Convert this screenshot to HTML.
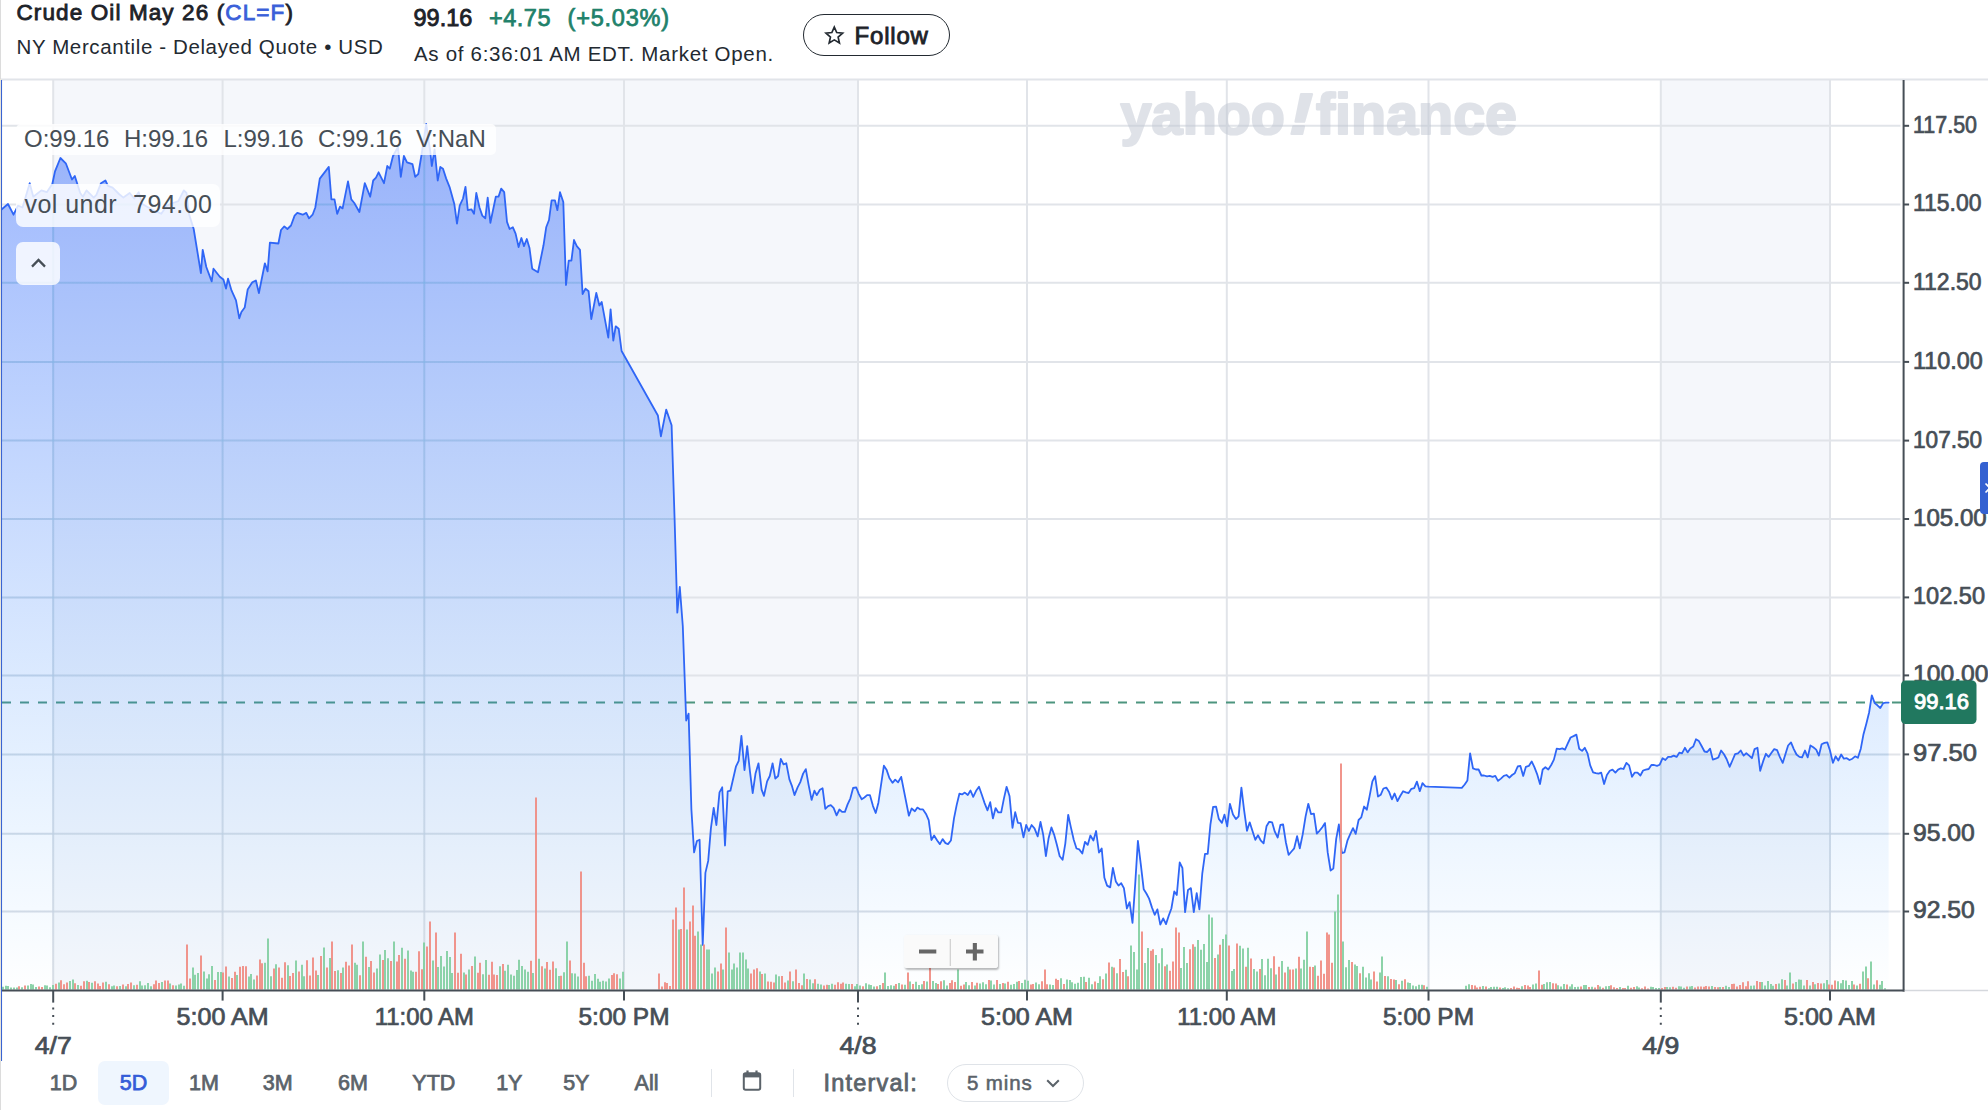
<!DOCTYPE html><html lang="en"><head><meta charset="utf-8"><title>Crude Oil May 26 (CL=F)</title><style>
html,body{margin:0;padding:0;background:#fff}
body{width:1988px;height:1110px;position:relative;overflow:hidden;font-family:"Liberation Sans",sans-serif;color:#1d2228}
.chart{position:absolute;left:0;top:0}
.abs{position:absolute;white-space:nowrap;line-height:1}
h1{margin:0;font-size:22.5px;font-weight:400;-webkit-text-stroke:0.85px currentColor;letter-spacing:1.11px}
.tk{color:#3a5fd9}
.sub{font-size:20.5px;color:#232a31;letter-spacing:.62px}
.px{font-size:23.5px;font-weight:400;-webkit-text-stroke:0.85px currentColor;letter-spacing:0px}
.chg{font-size:23.5px;color:#21816a;-webkit-text-stroke:0.75px #21816a}
.follow{font-family:inherit;margin:0;left:803px;top:13.5px;width:146.5px;height:42.5px;box-sizing:border-box;padding:0;border:1.5px solid #232a31;border-radius:22px;background:#fff}
.follow span{position:absolute;left:50.6px;top:9px;font-size:24px;letter-spacing:.78px;font-weight:400;-webkit-text-stroke:0.85px #1d2228;line-height:1;color:#1d2228}
.follow svg{position:absolute;left:20.2px;top:10.2px}
.tip{background:rgba(255,255,255,.82);border-radius:5px;color:#464e56;font-size:24px}
.tip span{position:absolute;top:3px;line-height:1}
.rng{font-size:21.5px;color:#5b636a;-webkit-text-stroke:0.75px #5b636a;top:1073px}
.rng.on{color:#345cd8;-webkit-text-stroke:0.75px #345cd8}
.sel{left:98px;top:1061px;width:71px;height:43.5px;border-radius:7px;background:#eff6fe}
.sep{width:1.5px;height:28px;top:1069px;background:#e0e4e9}
.ivl{left:823.5px;top:1071.5px;font-size:23.5px;font-weight:400;-webkit-text-stroke:0.8px #5b636a;color:#5b636a;letter-spacing:1.2px}
.pill{left:947px;top:1064px;width:135px;height:36px;border:1.5px solid #dfe3e8;border-radius:19px}
.pill span{position:absolute;left:19px;top:7.5px;font-size:20.5px;letter-spacing:.85px;line-height:1;color:#5b636a;-webkit-text-stroke:0.55px #5b636a}
.zoom{left:904px;top:934.5px;width:94px;height:33.5px;background:rgba(250,250,250,.96);border-radius:3px;box-shadow:1px 1.5px 2px rgba(0,0,0,.28)}
.tab{left:1979.5px;top:461.5px;width:9px;height:52.5px;background:#3461d1;border-radius:4px 0 0 4px}
</style></head><body>
<svg class="chart" width="1988" height="1110" viewBox="0 0 1988 1110">
<defs><linearGradient id="mg" gradientUnits="userSpaceOnUse" x1="0" y1="80" x2="0" y2="990"><stop offset="0" stop-color="#3062fa" stop-opacity="0.50"/><stop offset="0.5" stop-color="#3278fc" stop-opacity="0.25"/><stop offset="1" stop-color="#32a0ff" stop-opacity="0.005"/></linearGradient><linearGradient id="og" gradientUnits="userSpaceOnUse" x1="0" y1="80" x2="0" y2="990"><stop offset="0" stop-color="#1eb4d7" stop-opacity="0.15"/><stop offset="0.6" stop-color="#3c96c8" stop-opacity="0.09"/><stop offset="1" stop-color="#5078aa" stop-opacity="0.05"/></linearGradient></defs>
<rect x="53.2" y="80" width="804.8" height="910" fill="#f5f7fb"/>
<rect x="1660.8" y="80" width="169.2" height="910" fill="#f5f7fb"/>
<g stroke="#e1e4e9" stroke-width="2" fill="none">
<path d="M1 79.5H1988"/>
<path d="M2 125.8H1900.5"/>
<path d="M2 204.5H1900.5"/>
<path d="M2 282.8H1900.5"/>
<path d="M2 361.9H1900.5"/>
<path d="M2 440.6H1900.5"/>
<path d="M2 519.0H1900.5"/>
<path d="M2 597.4H1900.5"/>
<path d="M2 675.4H1900.5"/>
<path d="M2 754.4H1900.5"/>
<path d="M2 833.8H1900.5"/>
<path d="M2 911.5H1900.5"/>
<path d="M53.2 80V990"/>
<path d="M222.6 80V990"/>
<path d="M424.3 80V990"/>
<path d="M624.0 80V990"/>
<path d="M858.0 80V990"/>
<path d="M1027.0 80V990"/>
<path d="M1226.8 80V990"/>
<path d="M1428.5 80V990"/>
<path d="M1660.8 80V990"/>
<path d="M1830.0 80V990"/>
</g>
<g opacity="0.5" fill="#c1c7d3" stroke="#c1c7d3" stroke-width="2.2" stroke-linejoin="round" font-family="'Liberation Sans',sans-serif" font-weight="700" font-size="58"><text x="1120.5" y="133.8" textLength="164.5" lengthAdjust="spacingAndGlyphs">yahoo</text><text x="1289" y="133.8" font-style="italic" textLength="24" lengthAdjust="spacingAndGlyphs">!</text><text x="1316" y="133.8" textLength="201" lengthAdjust="spacingAndGlyphs">finance</text></g>
<path d="M0 702.5H1901" stroke="#4d957f" stroke-width="2" stroke-dasharray="9 9" stroke-dashoffset="-2" fill="none"/>
<defs><path id="ar" d="M1.8 209.3 L8.0 204.0 L13.5 214.7 L18.0 205.7 L22.5 207.5 L29.7 183.2 L33.3 196.7 L41.4 190.4 L46.8 192.2 L52.3 184.0 L55.0 171.4 L60.4 158.0 L65.8 163.3 L72.0 179.5 L74.8 176.0 L80.2 193.0 L82.9 196.7 L86.5 190.4 L93.7 197.6 L96.4 194.9 L101.0 183.2 L105.4 180.5 L108.0 185.9 L112.6 187.7 L119.0 194.0 L123.4 197.6 L129.7 193.0 L134.2 198.5 L138.7 192.2 L142.3 203.9 L151.4 209.3 L161.3 213.8 L166.7 205.7 L173.0 203.0 L178.4 201.2 L183.8 190.4 L186.5 193.0 L189.2 214.7 L193.7 229.0 L200.9 273.2 L202.7 249.8 L206.3 267.0 L211.7 281.4 L213.5 268.7 L219.8 276.8 L223.4 279.5 L226.0 288.6 L228.0 278.6 L231.5 290.4 L236.0 300.3 L239.3 318.3 L241.4 312.0 L244.7 307.5 L247.7 289.5 L252.3 282.3 L255.9 280.5 L258.9 293.0 L264.9 263.3 L267.6 271.4 L269.9 242.6 L278.4 243.5 L281.0 230.0 L284.3 226.4 L287.4 229.0 L291.0 225.5 L294.6 215.6 L297.3 212.9 L302.7 214.7 L306.3 212.9 L309.0 218.3 L312.6 214.7 L315.3 207.5 L319.8 178.6 L328.8 166.9 L331.4 199.4 L334.5 199.4 L337.2 213.8 L340.0 206.6 L342.6 208.4 L348.0 181.4 L351.3 199.4 L354.3 203.0 L359.4 212.0 L364.8 183.2 L370.2 196.7 L373.2 180.5 L376.0 177.7 L378.6 172.3 L384.0 183.2 L387.3 166.0 L389.8 168.7 L393.0 156.0 L398.0 147.0 L400.8 176.8 L403.9 156.0 L407.0 162.4 L412.5 164.2 L415.2 176.8 L418.3 174.0 L421.5 155.0 L426.2 124.0 L430.3 152.0 L431.8 166.0 L434.6 149.5 L437.7 180.5 L440.3 167.0 L443.0 168.7 L446.2 178.6 L449.8 187.7 L454.3 203.9 L457.0 223.7 L459.7 205.7 L463.0 198.5 L465.5 186.8 L467.8 210.2 L471.4 209.3 L474.0 213.8 L476.3 193.0 L479.5 207.5 L482.3 215.6 L485.3 218.3 L487.7 197.6 L490.4 222.8 L495.8 196.7 L498.5 196.7 L501.2 188.6 L504.2 192.2 L507.0 221.9 L509.6 229.0 L512.9 227.3 L515.6 233.6 L518.6 247.0 L521.4 238.0 L524.0 246.2 L526.8 239.0 L529.5 248.0 L532.2 268.7 L538.0 272.3 L543.5 245.3 L546.2 227.3 L549.0 220.0 L551.6 200.3 L554.9 200.3 L557.4 210.2 L560.0 192.2 L563.3 202.0 L566.0 285.0 L568.7 260.6 L571.4 260.6 L574.0 240.0 L576.8 246.2 L580.0 249.8 L582.6 294.0 L585.5 288.6 L588.6 291.3 L591.3 319.2 L596.3 293.0 L599.4 305.5 L601.7 301.9 L608.3 337.6 L610.6 309.3 L613.3 340.6 L615.7 326.3 L618.7 328.7 L621.6 351.0 L657.9 415.5 L660.9 436.3 L666.2 409.6 L671.6 425.3 L674.6 519.0 L677.3 612.6 L679.8 587.0 L682.8 626.2 L686.2 720.5 L688.6 713.6 L691.4 809.5 L694.1 852.4 L696.9 841.0 L699.6 839.7 L702.7 944.9 L705.4 872.9 L708.2 860.9 L710.9 828.4 L713.7 807.8 L716.4 825.0 L719.5 792.4 L722.2 787.3 L725.0 845.5 L727.7 791.4 L730.4 790.7 L735.9 766.7 L738.7 760.9 L741.4 735.9 L744.5 770.1 L747.2 746.2 L750.0 771.9 L752.7 793.1 L755.5 773.6 L758.5 763.3 L761.6 789.7 L764.0 795.8 L767.1 781.4 L769.8 776.0 L772.6 763.3 L775.3 778.7 L778.1 776.0 L780.8 758.8 L783.5 764.3 L786.3 763.3 L789.4 779.4 L791.8 785.6 L794.5 795.1 L797.6 787.3 L800.3 782.1 L803.1 773.6 L805.8 769.1 L808.6 784.9 L811.6 799.9 L814.4 790.7 L816.8 795.1 L819.9 789.7 L822.6 788.3 L825.3 808.8 L828.1 806.1 L830.8 805.1 L833.6 807.8 L836.6 815.4 L839.4 809.5 L842.1 811.9 L844.9 811.9 L847.6 804.4 L850.3 798.6 L853.1 788.0 L856.2 787.3 L858.9 794.1 L861.7 799.3 L864.4 797.5 L867.1 795.1 L869.9 795.1 L873.0 806.1 L875.7 813.0 L878.4 802.7 L883.9 765.7 L886.7 770.1 L889.4 778.0 L892.5 782.8 L895.2 779.7 L898.1 782.3 L901.2 776.9 L908.9 815.7 L911.6 808.5 L914.9 811.2 L917.4 807.6 L920.3 809.4 L923.0 809.4 L926.0 813.9 L928.7 820.2 L931.4 840.0 L934.1 835.5 L937.2 840.5 L939.9 844.1 L942.6 839.1 L945.5 843.1 L948.0 844.1 L950.9 840.5 L954.0 818.4 L956.7 804.9 L959.4 793.7 L962.1 794.4 L964.8 792.6 L967.8 795.0 L970.5 790.5 L973.2 796.8 L976.1 790.8 L979.0 786.8 L981.9 795.0 L984.6 803.1 L987.5 810.3 L990.2 802.2 L992.9 818.4 L995.6 808.1 L998.3 812.4 L1001.2 812.4 L1003.9 798.6 L1006.6 786.8 L1009.5 795.9 L1012.5 827.9 L1015.2 812.1 L1017.9 822.9 L1020.6 823.2 L1023.5 837.3 L1026.2 825.0 L1028.9 831.0 L1031.6 825.0 L1034.5 828.3 L1037.7 836.4 L1040.5 822.0 L1043.2 834.6 L1045.9 856.2 L1048.6 838.2 L1051.4 827.4 L1054.1 834.6 L1056.8 844.5 L1059.7 856.2 L1062.6 859.8 L1065.3 843.6 L1068.2 814.8 L1070.9 827.4 L1073.8 840.0 L1076.5 848.5 L1079.2 849.4 L1082.3 853.5 L1085.0 841.8 L1087.7 844.9 L1090.4 835.5 L1093.4 840.5 L1096.1 831.0 L1099.0 852.6 L1101.7 848.5 L1104.4 877.8 L1107.1 885.6 L1110.2 887.4 L1112.9 867.9 L1115.8 881.4 L1118.5 885.6 L1121.2 883.2 L1123.9 888.1 L1126.9 908.5 L1129.6 902.2 L1132.5 922.9 L1135.2 884.1 L1137.9 840.9 L1140.8 864.3 L1143.7 889.2 L1146.4 893.5 L1149.1 898.6 L1152.0 907.6 L1154.7 914.8 L1157.4 909.4 L1160.3 924.7 L1163.2 918.4 L1166.0 924.1 L1168.7 915.7 L1171.4 908.5 L1174.3 891.4 L1176.8 895.0 L1179.7 862.5 L1182.4 867.9 L1185.1 912.1 L1188.0 889.9 L1190.9 888.1 L1193.8 912.1 L1196.7 893.2 L1199.4 909.4 L1202.3 873.3 L1205.0 853.9 L1207.7 853.9 L1210.4 824.7 L1213.1 807.0 L1216.1 806.7 L1218.8 818.9 L1221.9 822.9 L1224.5 814.6 L1227.2 826.3 L1229.9 803.8 L1233.0 814.6 L1235.9 819.1 L1238.6 816.4 L1241.4 787.6 L1244.1 810.1 L1247.0 830.8 L1249.7 822.3 L1252.4 830.8 L1255.3 839.8 L1258.0 835.3 L1260.9 840.7 L1263.6 843.4 L1266.5 826.3 L1269.2 821.8 L1272.1 822.3 L1274.8 831.7 L1277.7 837.5 L1280.4 824.9 L1283.1 824.5 L1285.9 842.5 L1288.6 854.8 L1291.5 851.5 L1294.2 848.3 L1297.1 836.2 L1299.8 848.3 L1302.7 834.4 L1305.6 816.4 L1308.3 803.8 L1311.0 814.1 L1313.9 813.7 L1316.8 833.5 L1319.5 830.8 L1322.3 827.2 L1325.0 823.1 L1327.7 852.4 L1330.6 870.5 L1333.3 868.6 L1336.2 838.9 L1338.9 824.5 L1341.8 853.0 L1344.5 852.4 L1347.4 840.7 L1350.1 834.4 L1353.0 828.1 L1355.7 833.9 L1358.6 820.0 L1361.3 817.3 L1364.1 806.5 L1366.8 809.7 L1369.5 796.6 L1372.4 781.3 L1375.1 776.2 L1378.0 796.6 L1380.7 794.8 L1383.4 788.5 L1386.3 787.6 L1389.2 792.1 L1391.9 799.3 L1394.6 793.5 L1397.5 801.1 L1400.2 796.0 L1403.1 791.2 L1405.8 792.4 L1408.6 793.0 L1411.4 788.8 L1414.2 788.1 L1416.9 781.6 L1419.8 791.2 L1422.5 783.1 L1425.4 786.3 L1428.6 786.7 L1461.8 787.9 L1464.7 784.5 L1467.4 780.4 L1470.1 753.3 L1473.0 768.3 L1475.9 769.5 L1478.6 769.5 L1481.4 775.5 L1484.1 775.5 L1487.0 776.4 L1489.7 775.9 L1492.6 776.8 L1495.3 775.9 L1498.0 780.9 L1500.9 778.6 L1503.8 775.9 L1506.5 775.0 L1509.4 777.7 L1512.1 775.0 L1514.8 773.2 L1517.7 766.5 L1520.4 765.9 L1523.2 775.9 L1525.9 766.8 L1528.8 765.9 L1531.7 761.4 L1534.4 767.2 L1537.1 774.1 L1540.0 784.0 L1542.7 769.5 L1545.4 767.2 L1548.3 769.5 L1551.2 765.0 L1553.9 759.6 L1556.7 748.7 L1559.6 749.1 L1562.3 748.4 L1565.0 749.6 L1567.7 743.7 L1570.6 737.5 L1573.5 736.1 L1576.4 734.6 L1579.2 748.7 L1582.1 750.9 L1584.8 747.8 L1587.5 753.3 L1590.2 765.4 L1593.1 772.3 L1595.8 773.2 L1598.5 773.7 L1601.2 772.6 L1604.1 784.0 L1606.9 775.0 L1609.8 770.8 L1612.5 769.6 L1615.4 772.6 L1618.1 769.6 L1620.8 768.3 L1623.5 769.0 L1626.4 762.9 L1629.1 765.4 L1632.0 776.8 L1634.8 772.6 L1637.5 772.6 L1640.4 775.5 L1643.1 770.5 L1645.8 769.6 L1648.7 769.0 L1651.4 765.0 L1654.1 765.0 L1657.0 765.9 L1659.7 764.7 L1662.6 758.2 L1665.4 760.0 L1668.1 756.9 L1671.0 756.9 L1673.7 755.6 L1676.6 756.9 L1679.3 752.7 L1682.0 753.3 L1684.9 747.8 L1687.6 752.4 L1690.3 748.4 L1693.2 746.6 L1696.0 739.3 L1698.9 741.1 L1701.6 746.0 L1704.5 751.5 L1707.2 752.0 L1710.1 748.7 L1712.8 759.6 L1715.7 758.7 L1718.4 757.4 L1721.1 750.5 L1724.0 754.2 L1726.7 759.2 L1729.6 766.8 L1732.4 760.5 L1735.1 754.2 L1738.0 753.3 L1740.7 750.5 L1743.6 755.6 L1746.3 753.3 L1749.2 755.6 L1751.9 758.2 L1754.6 749.1 L1757.5 747.8 L1760.2 770.8 L1763.1 761.4 L1765.9 753.8 L1768.6 756.9 L1771.5 752.7 L1774.2 749.1 L1777.1 750.2 L1779.8 756.9 L1782.7 762.9 L1785.4 754.2 L1788.1 745.5 L1791.0 742.4 L1793.8 749.1 L1796.5 754.5 L1799.4 756.9 L1802.1 757.4 L1805.0 750.5 L1807.7 757.4 L1810.4 745.5 L1813.3 747.3 L1816.2 749.6 L1818.9 755.6 L1821.6 744.2 L1824.5 742.9 L1827.3 742.4 L1830.0 750.5 L1832.9 762.9 L1835.6 756.3 L1838.3 760.5 L1841.2 754.5 L1843.9 758.7 L1846.8 758.2 L1849.5 760.0 L1852.4 758.7 L1855.1 756.3 L1857.9 757.8 L1860.8 748.7 L1863.5 734.2 L1866.4 723.4 L1869.1 712.5 L1871.8 695.3 L1874.7 703.1 L1877.4 705.3 L1880.3 708.0 L1883.2 703.1 L1885.9 702.6 L1888.6 702.6 L1888.6 990 L1.8 990 Z"/><clipPath id="ac"><use href="#ar"/></clipPath></defs>
<use href="#ar" fill="url(#mg)"/>
<g clip-path="url(#ac)" stroke="url(#og)" stroke-width="2" fill="none">
<path d="M2 125.8H1900.5"/>
<path d="M2 204.5H1900.5"/>
<path d="M2 282.8H1900.5"/>
<path d="M2 361.9H1900.5"/>
<path d="M2 440.6H1900.5"/>
<path d="M2 519.0H1900.5"/>
<path d="M2 597.4H1900.5"/>
<path d="M2 675.4H1900.5"/>
<path d="M2 754.4H1900.5"/>
<path d="M2 833.8H1900.5"/>
<path d="M2 911.5H1900.5"/>
<path d="M53.2 80V990"/>
<path d="M222.6 80V990"/>
<path d="M424.3 80V990"/>
<path d="M624.0 80V990"/>
<path d="M858.0 80V990"/>
<path d="M1027.0 80V990"/>
<path d="M1226.8 80V990"/>
<path d="M1428.5 80V990"/>
<path d="M1660.8 80V990"/>
<path d="M1830.0 80V990"/>
</g>
<path d="M1.8 209.3 L8.0 204.0 L13.5 214.7 L18.0 205.7 L22.5 207.5 L29.7 183.2 L33.3 196.7 L41.4 190.4 L46.8 192.2 L52.3 184.0 L55.0 171.4 L60.4 158.0 L65.8 163.3 L72.0 179.5 L74.8 176.0 L80.2 193.0 L82.9 196.7 L86.5 190.4 L93.7 197.6 L96.4 194.9 L101.0 183.2 L105.4 180.5 L108.0 185.9 L112.6 187.7 L119.0 194.0 L123.4 197.6 L129.7 193.0 L134.2 198.5 L138.7 192.2 L142.3 203.9 L151.4 209.3 L161.3 213.8 L166.7 205.7 L173.0 203.0 L178.4 201.2 L183.8 190.4 L186.5 193.0 L189.2 214.7 L193.7 229.0 L200.9 273.2 L202.7 249.8 L206.3 267.0 L211.7 281.4 L213.5 268.7 L219.8 276.8 L223.4 279.5 L226.0 288.6 L228.0 278.6 L231.5 290.4 L236.0 300.3 L239.3 318.3 L241.4 312.0 L244.7 307.5 L247.7 289.5 L252.3 282.3 L255.9 280.5 L258.9 293.0 L264.9 263.3 L267.6 271.4 L269.9 242.6 L278.4 243.5 L281.0 230.0 L284.3 226.4 L287.4 229.0 L291.0 225.5 L294.6 215.6 L297.3 212.9 L302.7 214.7 L306.3 212.9 L309.0 218.3 L312.6 214.7 L315.3 207.5 L319.8 178.6 L328.8 166.9 L331.4 199.4 L334.5 199.4 L337.2 213.8 L340.0 206.6 L342.6 208.4 L348.0 181.4 L351.3 199.4 L354.3 203.0 L359.4 212.0 L364.8 183.2 L370.2 196.7 L373.2 180.5 L376.0 177.7 L378.6 172.3 L384.0 183.2 L387.3 166.0 L389.8 168.7 L393.0 156.0 L398.0 147.0 L400.8 176.8 L403.9 156.0 L407.0 162.4 L412.5 164.2 L415.2 176.8 L418.3 174.0 L421.5 155.0 L426.2 124.0 L430.3 152.0 L431.8 166.0 L434.6 149.5 L437.7 180.5 L440.3 167.0 L443.0 168.7 L446.2 178.6 L449.8 187.7 L454.3 203.9 L457.0 223.7 L459.7 205.7 L463.0 198.5 L465.5 186.8 L467.8 210.2 L471.4 209.3 L474.0 213.8 L476.3 193.0 L479.5 207.5 L482.3 215.6 L485.3 218.3 L487.7 197.6 L490.4 222.8 L495.8 196.7 L498.5 196.7 L501.2 188.6 L504.2 192.2 L507.0 221.9 L509.6 229.0 L512.9 227.3 L515.6 233.6 L518.6 247.0 L521.4 238.0 L524.0 246.2 L526.8 239.0 L529.5 248.0 L532.2 268.7 L538.0 272.3 L543.5 245.3 L546.2 227.3 L549.0 220.0 L551.6 200.3 L554.9 200.3 L557.4 210.2 L560.0 192.2 L563.3 202.0 L566.0 285.0 L568.7 260.6 L571.4 260.6 L574.0 240.0 L576.8 246.2 L580.0 249.8 L582.6 294.0 L585.5 288.6 L588.6 291.3 L591.3 319.2 L596.3 293.0 L599.4 305.5 L601.7 301.9 L608.3 337.6 L610.6 309.3 L613.3 340.6 L615.7 326.3 L618.7 328.7 L621.6 351.0 L657.9 415.5 L660.9 436.3 L666.2 409.6 L671.6 425.3 L674.6 519.0 L677.3 612.6 L679.8 587.0 L682.8 626.2 L686.2 720.5 L688.6 713.6 L691.4 809.5 L694.1 852.4 L696.9 841.0 L699.6 839.7 L702.7 944.9 L705.4 872.9 L708.2 860.9 L710.9 828.4 L713.7 807.8 L716.4 825.0 L719.5 792.4 L722.2 787.3 L725.0 845.5 L727.7 791.4 L730.4 790.7 L735.9 766.7 L738.7 760.9 L741.4 735.9 L744.5 770.1 L747.2 746.2 L750.0 771.9 L752.7 793.1 L755.5 773.6 L758.5 763.3 L761.6 789.7 L764.0 795.8 L767.1 781.4 L769.8 776.0 L772.6 763.3 L775.3 778.7 L778.1 776.0 L780.8 758.8 L783.5 764.3 L786.3 763.3 L789.4 779.4 L791.8 785.6 L794.5 795.1 L797.6 787.3 L800.3 782.1 L803.1 773.6 L805.8 769.1 L808.6 784.9 L811.6 799.9 L814.4 790.7 L816.8 795.1 L819.9 789.7 L822.6 788.3 L825.3 808.8 L828.1 806.1 L830.8 805.1 L833.6 807.8 L836.6 815.4 L839.4 809.5 L842.1 811.9 L844.9 811.9 L847.6 804.4 L850.3 798.6 L853.1 788.0 L856.2 787.3 L858.9 794.1 L861.7 799.3 L864.4 797.5 L867.1 795.1 L869.9 795.1 L873.0 806.1 L875.7 813.0 L878.4 802.7 L883.9 765.7 L886.7 770.1 L889.4 778.0 L892.5 782.8 L895.2 779.7 L898.1 782.3 L901.2 776.9 L908.9 815.7 L911.6 808.5 L914.9 811.2 L917.4 807.6 L920.3 809.4 L923.0 809.4 L926.0 813.9 L928.7 820.2 L931.4 840.0 L934.1 835.5 L937.2 840.5 L939.9 844.1 L942.6 839.1 L945.5 843.1 L948.0 844.1 L950.9 840.5 L954.0 818.4 L956.7 804.9 L959.4 793.7 L962.1 794.4 L964.8 792.6 L967.8 795.0 L970.5 790.5 L973.2 796.8 L976.1 790.8 L979.0 786.8 L981.9 795.0 L984.6 803.1 L987.5 810.3 L990.2 802.2 L992.9 818.4 L995.6 808.1 L998.3 812.4 L1001.2 812.4 L1003.9 798.6 L1006.6 786.8 L1009.5 795.9 L1012.5 827.9 L1015.2 812.1 L1017.9 822.9 L1020.6 823.2 L1023.5 837.3 L1026.2 825.0 L1028.9 831.0 L1031.6 825.0 L1034.5 828.3 L1037.7 836.4 L1040.5 822.0 L1043.2 834.6 L1045.9 856.2 L1048.6 838.2 L1051.4 827.4 L1054.1 834.6 L1056.8 844.5 L1059.7 856.2 L1062.6 859.8 L1065.3 843.6 L1068.2 814.8 L1070.9 827.4 L1073.8 840.0 L1076.5 848.5 L1079.2 849.4 L1082.3 853.5 L1085.0 841.8 L1087.7 844.9 L1090.4 835.5 L1093.4 840.5 L1096.1 831.0 L1099.0 852.6 L1101.7 848.5 L1104.4 877.8 L1107.1 885.6 L1110.2 887.4 L1112.9 867.9 L1115.8 881.4 L1118.5 885.6 L1121.2 883.2 L1123.9 888.1 L1126.9 908.5 L1129.6 902.2 L1132.5 922.9 L1135.2 884.1 L1137.9 840.9 L1140.8 864.3 L1143.7 889.2 L1146.4 893.5 L1149.1 898.6 L1152.0 907.6 L1154.7 914.8 L1157.4 909.4 L1160.3 924.7 L1163.2 918.4 L1166.0 924.1 L1168.7 915.7 L1171.4 908.5 L1174.3 891.4 L1176.8 895.0 L1179.7 862.5 L1182.4 867.9 L1185.1 912.1 L1188.0 889.9 L1190.9 888.1 L1193.8 912.1 L1196.7 893.2 L1199.4 909.4 L1202.3 873.3 L1205.0 853.9 L1207.7 853.9 L1210.4 824.7 L1213.1 807.0 L1216.1 806.7 L1218.8 818.9 L1221.9 822.9 L1224.5 814.6 L1227.2 826.3 L1229.9 803.8 L1233.0 814.6 L1235.9 819.1 L1238.6 816.4 L1241.4 787.6 L1244.1 810.1 L1247.0 830.8 L1249.7 822.3 L1252.4 830.8 L1255.3 839.8 L1258.0 835.3 L1260.9 840.7 L1263.6 843.4 L1266.5 826.3 L1269.2 821.8 L1272.1 822.3 L1274.8 831.7 L1277.7 837.5 L1280.4 824.9 L1283.1 824.5 L1285.9 842.5 L1288.6 854.8 L1291.5 851.5 L1294.2 848.3 L1297.1 836.2 L1299.8 848.3 L1302.7 834.4 L1305.6 816.4 L1308.3 803.8 L1311.0 814.1 L1313.9 813.7 L1316.8 833.5 L1319.5 830.8 L1322.3 827.2 L1325.0 823.1 L1327.7 852.4 L1330.6 870.5 L1333.3 868.6 L1336.2 838.9 L1338.9 824.5 L1341.8 853.0 L1344.5 852.4 L1347.4 840.7 L1350.1 834.4 L1353.0 828.1 L1355.7 833.9 L1358.6 820.0 L1361.3 817.3 L1364.1 806.5 L1366.8 809.7 L1369.5 796.6 L1372.4 781.3 L1375.1 776.2 L1378.0 796.6 L1380.7 794.8 L1383.4 788.5 L1386.3 787.6 L1389.2 792.1 L1391.9 799.3 L1394.6 793.5 L1397.5 801.1 L1400.2 796.0 L1403.1 791.2 L1405.8 792.4 L1408.6 793.0 L1411.4 788.8 L1414.2 788.1 L1416.9 781.6 L1419.8 791.2 L1422.5 783.1 L1425.4 786.3 L1428.6 786.7 L1461.8 787.9 L1464.7 784.5 L1467.4 780.4 L1470.1 753.3 L1473.0 768.3 L1475.9 769.5 L1478.6 769.5 L1481.4 775.5 L1484.1 775.5 L1487.0 776.4 L1489.7 775.9 L1492.6 776.8 L1495.3 775.9 L1498.0 780.9 L1500.9 778.6 L1503.8 775.9 L1506.5 775.0 L1509.4 777.7 L1512.1 775.0 L1514.8 773.2 L1517.7 766.5 L1520.4 765.9 L1523.2 775.9 L1525.9 766.8 L1528.8 765.9 L1531.7 761.4 L1534.4 767.2 L1537.1 774.1 L1540.0 784.0 L1542.7 769.5 L1545.4 767.2 L1548.3 769.5 L1551.2 765.0 L1553.9 759.6 L1556.7 748.7 L1559.6 749.1 L1562.3 748.4 L1565.0 749.6 L1567.7 743.7 L1570.6 737.5 L1573.5 736.1 L1576.4 734.6 L1579.2 748.7 L1582.1 750.9 L1584.8 747.8 L1587.5 753.3 L1590.2 765.4 L1593.1 772.3 L1595.8 773.2 L1598.5 773.7 L1601.2 772.6 L1604.1 784.0 L1606.9 775.0 L1609.8 770.8 L1612.5 769.6 L1615.4 772.6 L1618.1 769.6 L1620.8 768.3 L1623.5 769.0 L1626.4 762.9 L1629.1 765.4 L1632.0 776.8 L1634.8 772.6 L1637.5 772.6 L1640.4 775.5 L1643.1 770.5 L1645.8 769.6 L1648.7 769.0 L1651.4 765.0 L1654.1 765.0 L1657.0 765.9 L1659.7 764.7 L1662.6 758.2 L1665.4 760.0 L1668.1 756.9 L1671.0 756.9 L1673.7 755.6 L1676.6 756.9 L1679.3 752.7 L1682.0 753.3 L1684.9 747.8 L1687.6 752.4 L1690.3 748.4 L1693.2 746.6 L1696.0 739.3 L1698.9 741.1 L1701.6 746.0 L1704.5 751.5 L1707.2 752.0 L1710.1 748.7 L1712.8 759.6 L1715.7 758.7 L1718.4 757.4 L1721.1 750.5 L1724.0 754.2 L1726.7 759.2 L1729.6 766.8 L1732.4 760.5 L1735.1 754.2 L1738.0 753.3 L1740.7 750.5 L1743.6 755.6 L1746.3 753.3 L1749.2 755.6 L1751.9 758.2 L1754.6 749.1 L1757.5 747.8 L1760.2 770.8 L1763.1 761.4 L1765.9 753.8 L1768.6 756.9 L1771.5 752.7 L1774.2 749.1 L1777.1 750.2 L1779.8 756.9 L1782.7 762.9 L1785.4 754.2 L1788.1 745.5 L1791.0 742.4 L1793.8 749.1 L1796.5 754.5 L1799.4 756.9 L1802.1 757.4 L1805.0 750.5 L1807.7 757.4 L1810.4 745.5 L1813.3 747.3 L1816.2 749.6 L1818.9 755.6 L1821.6 744.2 L1824.5 742.9 L1827.3 742.4 L1830.0 750.5 L1832.9 762.9 L1835.6 756.3 L1838.3 760.5 L1841.2 754.5 L1843.9 758.7 L1846.8 758.2 L1849.5 760.0 L1852.4 758.7 L1855.1 756.3 L1857.9 757.8 L1860.8 748.7 L1863.5 734.2 L1866.4 723.4 L1869.1 712.5 L1871.8 695.3 L1874.7 703.1 L1877.4 705.3 L1880.3 708.0 L1883.2 703.1 L1885.9 702.6 L1888.6 702.6" fill="none" stroke="#2f66f6" stroke-width="1.8" stroke-linejoin="round" stroke-linecap="round"/>
<path d="M2.1 989.6v-2.8h1.8v2.8zM5.1 989.6v-3.9h1.8v3.9zM7.1 989.6v-3.6h1.8v3.6zM10.1 989.6v-2.0h1.8v2.0zM13.1 989.6v-2.0h1.8v2.0zM16.1 989.6v-2.1h1.8v2.1zM21.1 989.6v-2.3h1.8v2.3zM27.1 989.6v-4.0h1.8v4.0zM30.1 989.6v-5.5h1.8v5.5zM32.1 989.6v-5.1h1.8v5.1zM35.1 989.6v-2.5h1.8v2.5zM44.1 989.6v-4.4h1.8v4.4zM46.1 989.6v-4.1h1.8v4.1zM49.1 989.6v-2.3h1.8v2.3zM52.1 989.6v-4.7h1.8v4.7zM58.1 989.6v-7.0h1.8v7.0zM69.1 989.6v-8.6h1.8v8.6zM72.1 989.6v-10.2h1.8v10.2zM77.1 989.6v-4.5h1.8v4.5zM86.1 989.6v-8.9h1.8v8.9zM91.1 989.6v-6.9h1.8v6.9zM105.1 989.6v-7.9h1.8v7.9zM111.1 989.6v-3.3h1.8v3.3zM113.1 989.6v-4.0h1.8v4.0zM119.1 989.6v-3.7h1.8v3.7zM125.1 989.6v-3.3h1.8v3.3zM133.1 989.6v-4.3h1.8v4.3zM139.1 989.6v-8.3h1.8v8.3zM141.1 989.6v-4.0h1.8v4.0zM144.1 989.6v-4.4h1.8v4.4zM147.1 989.6v-6.5h1.8v6.5zM150.1 989.6v-3.3h1.8v3.3zM161.1 989.6v-7.6h1.8v7.6zM169.1 989.6v-6.1h1.8v6.1zM175.1 989.6v-4.1h1.8v4.1zM178.1 989.6v-5.2h1.8v5.2zM180.1 989.6v-6.1h1.8v6.1zM183.1 989.6v-3.9h1.8v3.9zM192.1 989.6v-22.0h1.8v22.0zM194.1 989.6v-14.9h1.8v14.9zM197.1 989.6v-16.7h1.8v16.7zM203.1 989.6v-18.0h1.8v18.0zM206.1 989.6v-11.2h1.8v11.2zM208.1 989.6v-15.3h1.8v15.3zM211.1 989.6v-23.5h1.8v23.5zM217.1 989.6v-17.6h1.8v17.6zM220.1 989.6v-17.6h1.8v17.6zM228.1 989.6v-13.1h1.8v13.1zM236.1 989.6v-14.5h1.8v14.5zM248.1 989.6v-13.2h1.8v13.2zM250.1 989.6v-15.5h1.8v15.5zM253.1 989.6v-10.1h1.8v10.1zM264.1 989.6v-26.9h1.8v26.9zM267.1 989.6v-51.0h1.8v51.0zM270.1 989.6v-13.4h1.8v13.4zM275.1 989.6v-25.4h1.8v25.4zM287.1 989.6v-24.3h1.8v24.3zM295.1 989.6v-29.2h1.8v29.2zM301.1 989.6v-24.8h1.8v24.8zM303.1 989.6v-13.4h1.8v13.4zM317.1 989.6v-14.7h1.8v14.7zM323.1 989.6v-42.0h1.8v42.0zM329.1 989.6v-31.7h1.8v31.7zM337.1 989.6v-19.4h1.8v19.4zM342.1 989.6v-22.0h1.8v22.0zM354.1 989.6v-26.9h1.8v26.9zM356.1 989.6v-24.9h1.8v24.9zM362.1 989.6v-48.0h1.8v48.0zM368.1 989.6v-22.6h1.8v22.6zM376.1 989.6v-21.0h1.8v21.0zM379.1 989.6v-35.2h1.8v35.2zM384.1 989.6v-39.5h1.8v39.5zM387.1 989.6v-31.3h1.8v31.3zM393.1 989.6v-48.0h1.8v48.0zM401.1 989.6v-41.8h1.8v41.8zM407.1 989.6v-39.2h1.8v39.2zM410.1 989.6v-19.0h1.8v19.0zM412.1 989.6v-17.8h1.8v17.8zM423.1 989.6v-47.0h1.8v47.0zM432.1 989.6v-29.1h1.8v29.1zM437.1 989.6v-22.5h1.8v22.5zM440.1 989.6v-33.6h1.8v33.6zM443.1 989.6v-23.0h1.8v23.0zM446.1 989.6v-38.5h1.8v38.5zM449.1 989.6v-32.5h1.8v32.5zM451.1 989.6v-16.6h1.8v16.6zM463.1 989.6v-17.0h1.8v17.0zM468.1 989.6v-20.0h1.8v20.0zM474.1 989.6v-33.2h1.8v33.2zM482.1 989.6v-15.3h1.8v15.3zM485.1 989.6v-29.5h1.8v29.5zM499.1 989.6v-23.3h1.8v23.3zM504.1 989.6v-18.9h1.8v18.9zM507.1 989.6v-24.8h1.8v24.8zM510.1 989.6v-15.2h1.8v15.2zM513.1 989.6v-13.9h1.8v13.9zM516.1 989.6v-19.6h1.8v19.6zM518.1 989.6v-29.8h1.8v29.8zM521.1 989.6v-23.7h1.8v23.7zM524.1 989.6v-20.1h1.8v20.1zM527.1 989.6v-17.9h1.8v17.9zM532.1 989.6v-16.5h1.8v16.5zM538.1 989.6v-30.8h1.8v30.8zM544.1 989.6v-21.0h1.8v21.0zM555.1 989.6v-21.3h1.8v21.3zM558.1 989.6v-13.7h1.8v13.7zM563.1 989.6v-17.3h1.8v17.3zM566.1 989.6v-48.0h1.8v48.0zM571.1 989.6v-16.4h1.8v16.4zM574.1 989.6v-16.1h1.8v16.1zM577.1 989.6v-13.2h1.8v13.2zM588.1 989.6v-13.9h1.8v13.9zM591.1 989.6v-8.9h1.8v8.9zM594.1 989.6v-15.5h1.8v15.5zM597.1 989.6v-10.9h1.8v10.9zM599.1 989.6v-7.9h1.8v7.9zM602.1 989.6v-8.8h1.8v8.8zM605.1 989.6v-8.0h1.8v8.0zM608.1 989.6v-11.1h1.8v11.1zM619.1 989.6v-11.1h1.8v11.1zM622.1 989.6v-17.9h1.8v17.9zM678.1 989.6v-60.0h1.8v60.0zM686.1 989.6v-60.0h1.8v60.0zM697.1 989.6v-58.0h1.8v58.0zM700.1 989.6v-45.0h1.8v45.0zM706.1 989.6v-40.0h1.8v40.0zM708.1 989.6v-40.0h1.8v40.0zM711.1 989.6v-16.1h1.8v16.1zM714.1 989.6v-22.0h1.8v22.0zM722.1 989.6v-20.0h1.8v20.0zM728.1 989.6v-37.0h1.8v37.0zM731.1 989.6v-20.0h1.8v20.0zM733.1 989.6v-26.0h1.8v26.0zM736.1 989.6v-22.0h1.8v22.0zM739.1 989.6v-37.0h1.8v37.0zM742.1 989.6v-37.0h1.8v37.0zM745.1 989.6v-30.0h1.8v30.0zM747.1 989.6v-21.1h1.8v21.1zM759.1 989.6v-18.0h1.8v18.0zM764.1 989.6v-16.0h1.8v16.0zM775.1 989.6v-15.0h1.8v15.0zM778.1 989.6v-13.3h1.8v13.3zM787.1 989.6v-9.2h1.8v9.2zM792.1 989.6v-8.3h1.8v8.3zM803.1 989.6v-16.0h1.8v16.0zM809.1 989.6v-10.2h1.8v10.2zM812.1 989.6v-6.3h1.8v6.3zM817.1 989.6v-5.8h1.8v5.8zM820.1 989.6v-5.1h1.8v5.1zM828.1 989.6v-4.5h1.8v4.5zM831.1 989.6v-5.8h1.8v5.8zM845.1 989.6v-5.8h1.8v5.8zM848.1 989.6v-5.6h1.8v5.6zM854.1 989.6v-3.3h1.8v3.3zM856.1 989.6v-5.7h1.8v5.7zM859.1 989.6v-4.0h1.8v4.0zM865.1 989.6v-6.3h1.8v6.3zM868.1 989.6v-5.0h1.8v5.0zM870.1 989.6v-4.7h1.8v4.7zM873.1 989.6v-3.1h1.8v3.1zM879.1 989.6v-4.7h1.8v4.7zM884.1 989.6v-17.0h1.8v17.0zM887.1 989.6v-3.5h1.8v3.5zM890.1 989.6v-4.3h1.8v4.3zM893.1 989.6v-3.9h1.8v3.9zM898.1 989.6v-6.6h1.8v6.6zM904.1 989.6v-4.8h1.8v4.8zM909.1 989.6v-8.2h1.8v8.2zM915.1 989.6v-7.8h1.8v7.8zM918.1 989.6v-4.5h1.8v4.5zM921.1 989.6v-5.3h1.8v5.3zM926.1 989.6v-8.1h1.8v8.1zM932.1 989.6v-8.5h1.8v8.5zM935.1 989.6v-6.7h1.8v6.7zM943.1 989.6v-9.3h1.8v9.3zM946.1 989.6v-4.0h1.8v4.0zM957.1 989.6v-20.0h1.8v20.0zM965.1 989.6v-7.6h1.8v7.6zM968.1 989.6v-4.3h1.8v4.3zM974.1 989.6v-4.2h1.8v4.2zM979.1 989.6v-6.0h1.8v6.0zM982.1 989.6v-7.4h1.8v7.4zM985.1 989.6v-5.4h1.8v5.4zM990.1 989.6v-9.2h1.8v9.2zM993.1 989.6v-5.0h1.8v5.0zM999.1 989.6v-5.5h1.8v5.5zM1004.1 989.6v-6.2h1.8v6.2zM1010.1 989.6v-4.9h1.8v4.9zM1013.1 989.6v-5.6h1.8v5.6zM1016.1 989.6v-7.9h1.8v7.9zM1021.1 989.6v-6.7h1.8v6.7zM1024.1 989.6v-9.8h1.8v9.8zM1027.1 989.6v-8.9h1.8v8.9zM1035.1 989.6v-7.0h1.8v7.0zM1038.1 989.6v-5.3h1.8v5.3zM1049.1 989.6v-5.0h1.8v5.0zM1052.1 989.6v-4.5h1.8v4.5zM1060.1 989.6v-11.4h1.8v11.4zM1066.1 989.6v-10.1h1.8v10.1zM1069.1 989.6v-9.6h1.8v9.6zM1071.1 989.6v-7.4h1.8v7.4zM1074.1 989.6v-5.8h1.8v5.8zM1077.1 989.6v-6.8h1.8v6.8zM1080.1 989.6v-12.6h1.8v12.6zM1083.1 989.6v-12.8h1.8v12.8zM1088.1 989.6v-11.8h1.8v11.8zM1091.1 989.6v-5.3h1.8v5.3zM1097.1 989.6v-6.6h1.8v6.6zM1099.1 989.6v-13.3h1.8v13.3zM1105.1 989.6v-16.2h1.8v16.2zM1111.1 989.6v-22.9h1.8v22.9zM1116.1 989.6v-16.4h1.8v16.4zM1125.1 989.6v-19.9h1.8v19.9zM1130.1 989.6v-44.0h1.8v44.0zM1133.1 989.6v-37.6h1.8v37.6zM1136.1 989.6v-20.0h1.8v20.0zM1138.1 989.6v-115.0h1.8v115.0zM1144.1 989.6v-26.7h1.8v26.7zM1147.1 989.6v-41.7h1.8v41.7zM1155.1 989.6v-34.5h1.8v34.5zM1158.1 989.6v-26.4h1.8v26.4zM1161.1 989.6v-41.3h1.8v41.3zM1166.1 989.6v-25.1h1.8v25.1zM1180.1 989.6v-21.7h1.8v21.7zM1183.1 989.6v-42.6h1.8v42.6zM1186.1 989.6v-26.7h1.8v26.7zM1194.1 989.6v-42.8h1.8v42.8zM1197.1 989.6v-49.7h1.8v49.7zM1200.1 989.6v-39.8h1.8v39.8zM1203.1 989.6v-45.5h1.8v45.5zM1206.1 989.6v-27.7h1.8v27.7zM1208.1 989.6v-75.0h1.8v75.0zM1211.1 989.6v-72.0h1.8v72.0zM1217.1 989.6v-35.1h1.8v35.1zM1222.1 989.6v-50.5h1.8v50.5zM1225.1 989.6v-55.0h1.8v55.0zM1231.1 989.6v-18.6h1.8v18.6zM1233.1 989.6v-20.5h1.8v20.5zM1239.1 989.6v-43.9h1.8v43.9zM1242.1 989.6v-41.2h1.8v41.2zM1247.1 989.6v-41.9h1.8v41.9zM1253.1 989.6v-20.5h1.8v20.5zM1256.1 989.6v-18.1h1.8v18.1zM1261.1 989.6v-30.5h1.8v30.5zM1264.1 989.6v-14.4h1.8v14.4zM1267.1 989.6v-30.8h1.8v30.8zM1270.1 989.6v-21.4h1.8v21.4zM1275.1 989.6v-15.2h1.8v15.2zM1281.1 989.6v-28.7h1.8v28.7zM1287.1 989.6v-22.8h1.8v22.8zM1295.1 989.6v-21.0h1.8v21.0zM1300.1 989.6v-21.0h1.8v21.0zM1303.1 989.6v-29.8h1.8v29.8zM1306.1 989.6v-58.0h1.8v58.0zM1314.1 989.6v-24.2h1.8v24.2zM1334.1 989.6v-78.0h1.8v78.0zM1337.1 989.6v-95.0h1.8v95.0zM1342.1 989.6v-48.0h1.8v48.0zM1345.1 989.6v-22.3h1.8v22.3zM1348.1 989.6v-29.5h1.8v29.5zM1354.1 989.6v-25.2h1.8v25.2zM1356.1 989.6v-23.7h1.8v23.7zM1362.1 989.6v-22.9h1.8v22.9zM1365.1 989.6v-12.2h1.8v12.2zM1368.1 989.6v-16.4h1.8v16.4zM1370.1 989.6v-10.0h1.8v10.0zM1379.1 989.6v-17.2h1.8v17.2zM1381.1 989.6v-33.0h1.8v33.0zM1387.1 989.6v-13.4h1.8v13.4zM1395.1 989.6v-9.6h1.8v9.6zM1401.1 989.6v-8.8h1.8v8.8zM1407.1 989.6v-7.2h1.8v7.2zM1409.1 989.6v-6.7h1.8v6.7zM1412.1 989.6v-4.0h1.8v4.0zM1415.1 989.6v-3.4h1.8v3.4zM1418.1 989.6v-4.9h1.8v4.9zM1421.1 989.6v-4.8h1.8v4.8zM1426.1 989.6v-2.9h1.8v2.9zM1465.1 989.6v-3.9h1.8v3.9zM1468.1 989.6v-5.3h1.8v5.3zM1482.1 989.6v-3.6h1.8v3.6zM1488.1 989.6v-1.3h1.8v1.3zM1490.1 989.6v-2.6h1.8v2.6zM1493.1 989.6v-2.9h1.8v2.9zM1496.1 989.6v-2.8h1.8v2.8zM1502.1 989.6v-1.7h1.8v1.7zM1504.1 989.6v-2.4h1.8v2.4zM1507.1 989.6v-1.4h1.8v1.4zM1521.1 989.6v-3.4h1.8v3.4zM1532.1 989.6v-5.0h1.8v5.0zM1535.1 989.6v-6.2h1.8v6.2zM1543.1 989.6v-5.6h1.8v5.6zM1546.1 989.6v-7.3h1.8v7.3zM1549.1 989.6v-7.6h1.8v7.6zM1557.1 989.6v-4.4h1.8v4.4zM1560.1 989.6v-3.0h1.8v3.0zM1563.1 989.6v-5.7h1.8v5.7zM1569.1 989.6v-3.1h1.8v3.1zM1571.1 989.6v-5.4h1.8v5.4zM1574.1 989.6v-2.5h1.8v2.5zM1577.1 989.6v-2.8h1.8v2.8zM1583.1 989.6v-4.5h1.8v4.5zM1585.1 989.6v-4.5h1.8v4.5zM1591.1 989.6v-2.8h1.8v2.8zM1599.1 989.6v-3.0h1.8v3.0zM1605.1 989.6v-3.4h1.8v3.4zM1608.1 989.6v-3.6h1.8v3.6zM1619.1 989.6v-2.6h1.8v2.6zM1627.1 989.6v-3.9h1.8v3.9zM1636.1 989.6v-3.3h1.8v3.3zM1638.1 989.6v-2.0h1.8v2.0zM1650.1 989.6v-2.8h1.8v2.8zM1652.1 989.6v-2.7h1.8v2.7zM1655.1 989.6v-1.5h1.8v1.5zM1658.1 989.6v-1.5h1.8v1.5zM1666.1 989.6v-2.6h1.8v2.6zM1669.1 989.6v-2.3h1.8v2.3zM1678.1 989.6v-3.4h1.8v3.4zM1680.1 989.6v-3.2h1.8v3.2zM1683.1 989.6v-1.9h1.8v1.9zM1689.1 989.6v-3.1h1.8v3.1zM1691.1 989.6v-3.5h1.8v3.5zM1711.1 989.6v-3.7h1.8v3.7zM1719.1 989.6v-2.7h1.8v2.7zM1725.1 989.6v-3.8h1.8v3.8zM1728.1 989.6v-2.6h1.8v2.6zM1750.1 989.6v-3.8h1.8v3.8zM1753.1 989.6v-4.0h1.8v4.0zM1761.1 989.6v-7.6h1.8v7.6zM1764.1 989.6v-4.2h1.8v4.2zM1767.1 989.6v-8.6h1.8v8.6zM1770.1 989.6v-5.7h1.8v5.7zM1772.1 989.6v-3.9h1.8v3.9zM1778.1 989.6v-6.2h1.8v6.2zM1781.1 989.6v-10.4h1.8v10.4zM1786.1 989.6v-4.1h1.8v4.1zM1789.1 989.6v-17.0h1.8v17.0zM1795.1 989.6v-7.6h1.8v7.6zM1798.1 989.6v-10.1h1.8v10.1zM1800.1 989.6v-9.8h1.8v9.8zM1803.1 989.6v-4.1h1.8v4.1zM1809.1 989.6v-4.1h1.8v4.1zM1814.1 989.6v-5.4h1.8v5.4zM1823.1 989.6v-6.3h1.8v6.3zM1826.1 989.6v-9.5h1.8v9.5zM1837.1 989.6v-8.3h1.8v8.3zM1840.1 989.6v-6.4h1.8v6.4zM1842.1 989.6v-9.5h1.8v9.5zM1845.1 989.6v-9.1h1.8v9.1zM1848.1 989.6v-4.6h1.8v4.6zM1851.1 989.6v-8.5h1.8v8.5zM1856.1 989.6v-4.2h1.8v4.2zM1862.1 989.6v-18.0h1.8v18.0zM1865.1 989.6v-23.0h1.8v23.0zM1870.1 989.6v-28.0h1.8v28.0zM1873.1 989.6v-5.1h1.8v5.1zM1879.1 989.6v-4.8h1.8v4.8zM1881.1 989.6v-8.6h1.8v8.6zM1884.1 989.6v-1.4h1.8v1.4z" fill="#80cfa0"/>
<path d="M18.1 989.6v-3.3h1.8v3.3zM24.1 989.6v-4.1h1.8v4.1zM38.1 989.6v-3.1h1.8v3.1zM41.1 989.6v-2.7h1.8v2.7zM55.1 989.6v-5.9h1.8v5.9zM60.1 989.6v-9.3h1.8v9.3zM63.1 989.6v-5.4h1.8v5.4zM66.1 989.6v-7.2h1.8v7.2zM74.1 989.6v-6.3h1.8v6.3zM80.1 989.6v-3.8h1.8v3.8zM83.1 989.6v-8.3h1.8v8.3zM88.1 989.6v-7.7h1.8v7.7zM94.1 989.6v-8.4h1.8v8.4zM97.1 989.6v-6.1h1.8v6.1zM99.1 989.6v-3.6h1.8v3.6zM102.1 989.6v-7.0h1.8v7.0zM108.1 989.6v-5.3h1.8v5.3zM116.1 989.6v-3.3h1.8v3.3zM122.1 989.6v-5.0h1.8v5.0zM127.1 989.6v-5.7h1.8v5.7zM130.1 989.6v-7.1h1.8v7.1zM136.1 989.6v-4.8h1.8v4.8zM153.1 989.6v-5.4h1.8v5.4zM155.1 989.6v-9.1h1.8v9.1zM158.1 989.6v-6.5h1.8v6.5zM164.1 989.6v-9.2h1.8v9.2zM167.1 989.6v-9.2h1.8v9.2zM172.1 989.6v-4.3h1.8v4.3zM186.1 989.6v-45.0h1.8v45.0zM189.1 989.6v-11.0h1.8v11.0zM200.1 989.6v-34.0h1.8v34.0zM214.1 989.6v-9.7h1.8v9.7zM222.1 989.6v-17.2h1.8v17.2zM225.1 989.6v-23.0h1.8v23.0zM231.1 989.6v-11.7h1.8v11.7zM234.1 989.6v-17.8h1.8v17.8zM239.1 989.6v-22.9h1.8v22.9zM242.1 989.6v-23.7h1.8v23.7zM245.1 989.6v-23.3h1.8v23.3zM256.1 989.6v-14.0h1.8v14.0zM259.1 989.6v-30.0h1.8v30.0zM261.1 989.6v-26.4h1.8v26.4zM273.1 989.6v-21.2h1.8v21.2zM278.1 989.6v-22.0h1.8v22.0zM281.1 989.6v-11.8h1.8v11.8zM284.1 989.6v-27.3h1.8v27.3zM289.1 989.6v-13.7h1.8v13.7zM292.1 989.6v-16.6h1.8v16.6zM298.1 989.6v-18.1h1.8v18.1zM306.1 989.6v-29.4h1.8v29.4zM309.1 989.6v-14.2h1.8v14.2zM312.1 989.6v-32.1h1.8v32.1zM315.1 989.6v-19.0h1.8v19.0zM320.1 989.6v-33.6h1.8v33.6zM326.1 989.6v-22.1h1.8v22.1zM331.1 989.6v-48.0h1.8v48.0zM334.1 989.6v-18.6h1.8v18.6zM340.1 989.6v-16.6h1.8v16.6zM345.1 989.6v-27.9h1.8v27.9zM348.1 989.6v-24.0h1.8v24.0zM351.1 989.6v-45.0h1.8v45.0zM359.1 989.6v-14.4h1.8v14.4zM365.1 989.6v-32.9h1.8v32.9zM370.1 989.6v-28.7h1.8v28.7zM373.1 989.6v-17.2h1.8v17.2zM382.1 989.6v-29.6h1.8v29.6zM390.1 989.6v-28.7h1.8v28.7zM396.1 989.6v-28.1h1.8v28.1zM398.1 989.6v-34.5h1.8v34.5zM404.1 989.6v-30.9h1.8v30.9zM415.1 989.6v-17.9h1.8v17.9zM418.1 989.6v-38.4h1.8v38.4zM421.1 989.6v-20.4h1.8v20.4zM426.1 989.6v-43.1h1.8v43.1zM429.1 989.6v-68.0h1.8v68.0zM435.1 989.6v-57.0h1.8v57.0zM454.1 989.6v-57.0h1.8v57.0zM457.1 989.6v-16.9h1.8v16.9zM460.1 989.6v-35.8h1.8v35.8zM465.1 989.6v-15.1h1.8v15.1zM471.1 989.6v-23.5h1.8v23.5zM477.1 989.6v-16.8h1.8v16.8zM479.1 989.6v-26.8h1.8v26.8zM488.1 989.6v-14.8h1.8v14.8zM491.1 989.6v-27.9h1.8v27.9zM493.1 989.6v-15.0h1.8v15.0zM496.1 989.6v-14.6h1.8v14.6zM502.1 989.6v-25.6h1.8v25.6zM530.1 989.6v-28.8h1.8v28.8zM535.1 989.6v-192.0h1.8v192.0zM541.1 989.6v-23.3h1.8v23.3zM546.1 989.6v-27.7h1.8v27.7zM549.1 989.6v-19.9h1.8v19.9zM552.1 989.6v-28.2h1.8v28.2zM560.1 989.6v-13.8h1.8v13.8zM569.1 989.6v-29.1h1.8v29.1zM580.1 989.6v-118.0h1.8v118.0zM583.1 989.6v-26.8h1.8v26.8zM585.1 989.6v-13.4h1.8v13.4zM611.1 989.6v-14.5h1.8v14.5zM613.1 989.6v-16.3h1.8v16.3zM616.1 989.6v-15.4h1.8v15.4zM658.1 989.6v-16.0h1.8v16.0zM661.1 989.6v-3.1h1.8v3.1zM664.1 989.6v-7.4h1.8v7.4zM666.1 989.6v-6.6h1.8v6.6zM669.1 989.6v-3.5h1.8v3.5zM672.1 989.6v-70.0h1.8v70.0zM675.1 989.6v-82.0h1.8v82.0zM680.1 989.6v-60.6h1.8v60.6zM683.1 989.6v-102.0h1.8v102.0zM689.1 989.6v-68.0h1.8v68.0zM692.1 989.6v-84.0h1.8v84.0zM694.1 989.6v-53.9h1.8v53.9zM703.1 989.6v-45.0h1.8v45.0zM717.1 989.6v-18.0h1.8v18.0zM720.1 989.6v-26.0h1.8v26.0zM725.1 989.6v-62.0h1.8v62.0zM750.1 989.6v-16.0h1.8v16.0zM753.1 989.6v-20.0h1.8v20.0zM756.1 989.6v-21.3h1.8v21.3zM761.1 989.6v-15.5h1.8v15.5zM767.1 989.6v-8.1h1.8v8.1zM770.1 989.6v-7.9h1.8v7.9zM773.1 989.6v-7.1h1.8v7.1zM781.1 989.6v-13.6h1.8v13.6zM784.1 989.6v-7.1h1.8v7.1zM789.1 989.6v-18.0h1.8v18.0zM795.1 989.6v-20.0h1.8v20.0zM798.1 989.6v-6.7h1.8v6.7zM801.1 989.6v-4.3h1.8v4.3zM806.1 989.6v-10.7h1.8v10.7zM814.1 989.6v-10.4h1.8v10.4zM823.1 989.6v-4.0h1.8v4.0zM826.1 989.6v-4.9h1.8v4.9zM834.1 989.6v-4.9h1.8v4.9zM837.1 989.6v-7.4h1.8v7.4zM840.1 989.6v-5.8h1.8v5.8zM842.1 989.6v-7.1h1.8v7.1zM851.1 989.6v-5.5h1.8v5.5zM862.1 989.6v-3.4h1.8v3.4zM876.1 989.6v-3.3h1.8v3.3zM882.1 989.6v-6.7h1.8v6.7zM895.1 989.6v-5.6h1.8v5.6zM901.1 989.6v-5.0h1.8v5.0zM907.1 989.6v-17.0h1.8v17.0zM912.1 989.6v-5.7h1.8v5.7zM923.1 989.6v-8.5h1.8v8.5zM929.1 989.6v-22.0h1.8v22.0zM937.1 989.6v-5.6h1.8v5.6zM940.1 989.6v-8.3h1.8v8.3zM949.1 989.6v-6.6h1.8v6.6zM951.1 989.6v-9.4h1.8v9.4zM954.1 989.6v-7.5h1.8v7.5zM960.1 989.6v-3.8h1.8v3.8zM963.1 989.6v-5.0h1.8v5.0zM971.1 989.6v-7.6h1.8v7.6zM976.1 989.6v-6.8h1.8v6.8zM988.1 989.6v-9.7h1.8v9.7zM996.1 989.6v-9.7h1.8v9.7zM1002.1 989.6v-6.7h1.8v6.7zM1007.1 989.6v-7.8h1.8v7.8zM1018.1 989.6v-8.6h1.8v8.6zM1030.1 989.6v-5.0h1.8v5.0zM1032.1 989.6v-5.6h1.8v5.6zM1041.1 989.6v-8.4h1.8v8.4zM1044.1 989.6v-20.0h1.8v20.0zM1046.1 989.6v-5.4h1.8v5.4zM1055.1 989.6v-10.8h1.8v10.8zM1057.1 989.6v-9.7h1.8v9.7zM1063.1 989.6v-5.7h1.8v5.7zM1085.1 989.6v-7.7h1.8v7.7zM1094.1 989.6v-8.1h1.8v8.1zM1102.1 989.6v-10.3h1.8v10.3zM1108.1 989.6v-27.0h1.8v27.0zM1113.1 989.6v-22.1h1.8v22.1zM1119.1 989.6v-30.6h1.8v30.6zM1122.1 989.6v-17.6h1.8v17.6zM1127.1 989.6v-13.4h1.8v13.4zM1141.1 989.6v-58.0h1.8v58.0zM1150.1 989.6v-38.9h1.8v38.9zM1152.1 989.6v-40.3h1.8v40.3zM1164.1 989.6v-23.3h1.8v23.3zM1169.1 989.6v-18.9h1.8v18.9zM1172.1 989.6v-28.2h1.8v28.2zM1175.1 989.6v-62.0h1.8v62.0zM1178.1 989.6v-57.0h1.8v57.0zM1189.1 989.6v-40.3h1.8v40.3zM1192.1 989.6v-45.3h1.8v45.3zM1214.1 989.6v-31.7h1.8v31.7zM1219.1 989.6v-44.9h1.8v44.9zM1228.1 989.6v-44.2h1.8v44.2zM1236.1 989.6v-46.0h1.8v46.0zM1245.1 989.6v-22.9h1.8v22.9zM1250.1 989.6v-31.2h1.8v31.2zM1259.1 989.6v-20.6h1.8v20.6zM1273.1 989.6v-33.4h1.8v33.4zM1278.1 989.6v-22.9h1.8v22.9zM1284.1 989.6v-17.1h1.8v17.1zM1289.1 989.6v-20.2h1.8v20.2zM1292.1 989.6v-20.1h1.8v20.1zM1298.1 989.6v-32.8h1.8v32.8zM1309.1 989.6v-22.9h1.8v22.9zM1312.1 989.6v-22.7h1.8v22.7zM1317.1 989.6v-13.9h1.8v13.9zM1320.1 989.6v-29.0h1.8v29.0zM1323.1 989.6v-15.8h1.8v15.8zM1326.1 989.6v-57.0h1.8v57.0zM1328.1 989.6v-55.0h1.8v55.0zM1331.1 989.6v-26.8h1.8v26.8zM1340.1 989.6v-226.0h1.8v226.0zM1351.1 989.6v-27.6h1.8v27.6zM1359.1 989.6v-16.3h1.8v16.3zM1373.1 989.6v-18.2h1.8v18.2zM1376.1 989.6v-8.2h1.8v8.2zM1384.1 989.6v-13.7h1.8v13.7zM1390.1 989.6v-10.5h1.8v10.5zM1393.1 989.6v-10.0h1.8v10.0zM1398.1 989.6v-5.3h1.8v5.3zM1404.1 989.6v-10.3h1.8v10.3zM1423.1 989.6v-4.4h1.8v4.4zM1471.1 989.6v-4.7h1.8v4.7zM1474.1 989.6v-4.0h1.8v4.0zM1476.1 989.6v-2.1h1.8v2.1zM1479.1 989.6v-2.8h1.8v2.8zM1485.1 989.6v-3.0h1.8v3.0zM1499.1 989.6v-2.2h1.8v2.2zM1510.1 989.6v-1.7h1.8v1.7zM1513.1 989.6v-3.0h1.8v3.0zM1516.1 989.6v-1.8h1.8v1.8zM1518.1 989.6v-1.7h1.8v1.7zM1524.1 989.6v-4.6h1.8v4.6zM1527.1 989.6v-4.0h1.8v4.0zM1529.1 989.6v-2.6h1.8v2.6zM1538.1 989.6v-19.0h1.8v19.0zM1541.1 989.6v-4.8h1.8v4.8zM1552.1 989.6v-6.4h1.8v6.4zM1555.1 989.6v-6.0h1.8v6.0zM1566.1 989.6v-5.0h1.8v5.0zM1580.1 989.6v-3.2h1.8v3.2zM1588.1 989.6v-2.5h1.8v2.5zM1594.1 989.6v-2.2h1.8v2.2zM1597.1 989.6v-4.7h1.8v4.7zM1602.1 989.6v-1.8h1.8v1.8zM1610.1 989.6v-4.4h1.8v4.4zM1613.1 989.6v-2.3h1.8v2.3zM1616.1 989.6v-1.7h1.8v1.7zM1622.1 989.6v-1.7h1.8v1.7zM1624.1 989.6v-1.5h1.8v1.5zM1630.1 989.6v-1.9h1.8v1.9zM1633.1 989.6v-2.6h1.8v2.6zM1641.1 989.6v-1.4h1.8v1.4zM1644.1 989.6v-3.0h1.8v3.0zM1647.1 989.6v-1.2h1.8v1.2zM1661.1 989.6v-1.7h1.8v1.7zM1664.1 989.6v-2.5h1.8v2.5zM1672.1 989.6v-2.9h1.8v2.9zM1675.1 989.6v-1.8h1.8v1.8zM1686.1 989.6v-3.0h1.8v3.0zM1694.1 989.6v-2.0h1.8v2.0zM1697.1 989.6v-3.0h1.8v3.0zM1700.1 989.6v-3.2h1.8v3.2zM1703.1 989.6v-2.8h1.8v2.8zM1705.1 989.6v-3.7h1.8v3.7zM1708.1 989.6v-3.1h1.8v3.1zM1714.1 989.6v-2.7h1.8v2.7zM1717.1 989.6v-2.3h1.8v2.3zM1722.1 989.6v-2.7h1.8v2.7zM1731.1 989.6v-5.7h1.8v5.7zM1733.1 989.6v-5.9h1.8v5.9zM1736.1 989.6v-3.1h1.8v3.1zM1739.1 989.6v-4.6h1.8v4.6zM1742.1 989.6v-7.3h1.8v7.3zM1745.1 989.6v-3.4h1.8v3.4zM1747.1 989.6v-8.3h1.8v8.3zM1756.1 989.6v-8.7h1.8v8.7zM1759.1 989.6v-7.5h1.8v7.5zM1775.1 989.6v-5.5h1.8v5.5zM1784.1 989.6v-9.6h1.8v9.6zM1792.1 989.6v-6.2h1.8v6.2zM1806.1 989.6v-9.5h1.8v9.5zM1812.1 989.6v-7.6h1.8v7.6zM1817.1 989.6v-6.7h1.8v6.7zM1820.1 989.6v-6.1h1.8v6.1zM1828.1 989.6v-5.1h1.8v5.1zM1831.1 989.6v-4.8h1.8v4.8zM1834.1 989.6v-9.1h1.8v9.1zM1853.1 989.6v-5.2h1.8v5.2zM1859.1 989.6v-5.9h1.8v5.9zM1867.1 989.6v-11.3h1.8v11.3zM1876.1 989.6v-9.3h1.8v9.3z" fill="#f08a80"/>
<g stroke="#464e56" stroke-width="2" fill="none">
<path d="M2 990.6H1904.6"/>
<path d="M1903.6 80V991.6"/>
<path d="M1903.6 125.8h5.5"/>
<path d="M1903.6 204.5h5.5"/>
<path d="M1903.6 282.8h5.5"/>
<path d="M1903.6 361.9h5.5"/>
<path d="M1903.6 440.6h5.5"/>
<path d="M1903.6 519.0h5.5"/>
<path d="M1903.6 597.4h5.5"/>
<path d="M1903.6 675.4h5.5"/>
<path d="M1903.6 754.4h5.5"/>
<path d="M1903.6 833.8h5.5"/>
<path d="M1903.6 911.5h5.5"/>
<path d="M222.6 990.6v10"/>
<path d="M424.3 990.6v10"/>
<path d="M624.0 990.6v10"/>
<path d="M1027.0 990.6v10"/>
<path d="M1226.8 990.6v10"/>
<path d="M1428.5 990.6v10"/>
<path d="M1830.0 990.6v10"/>
<path d="M53.2 990.6v12"/>
<path d="M53.2 1007.5v18" stroke-dasharray="2 5.6"/>
<path d="M858.0 990.6v12"/>
<path d="M858.0 1007.5v18" stroke-dasharray="2 5.6"/>
<path d="M1660.8 990.6v12"/>
<path d="M1660.8 1007.5v18" stroke-dasharray="2 5.6"/>
</g>
<path d="M1904.6 990.6H1988" stroke="#d5d8dd" stroke-width="1.5"/>
<g fill="#464e56" stroke="#464e56" stroke-width="0.7" font-family="'Liberation Sans',sans-serif" font-size="22">
<text x="1913" y="132.7" font-size="23.2" textLength="64.0" lengthAdjust="spacingAndGlyphs">117.50</text>
<text x="1913" y="211.4" font-size="23.2" textLength="68.5" lengthAdjust="spacingAndGlyphs">115.00</text>
<text x="1913" y="289.7" font-size="23.2" textLength="68.6" lengthAdjust="spacingAndGlyphs">112.50</text>
<text x="1913" y="368.8" font-size="23.2" textLength="69.8" lengthAdjust="spacingAndGlyphs">110.00</text>
<text x="1913" y="447.5" font-size="23.2" textLength="69.2" lengthAdjust="spacingAndGlyphs">107.50</text>
<text x="1913" y="525.9" font-size="23.2" textLength="73.7" lengthAdjust="spacingAndGlyphs">105.00</text>
<text x="1913" y="604.3" font-size="23.2" textLength="72.0" lengthAdjust="spacingAndGlyphs">102.50</text>
<text x="1913" y="682.3" font-size="23.2" textLength="75.5" lengthAdjust="spacingAndGlyphs">100.00</text>
<text x="1913" y="761.3" font-size="23.2" textLength="64.0" lengthAdjust="spacingAndGlyphs">97.50</text>
<text x="1913" y="840.7" font-size="23.2" textLength="61.8" lengthAdjust="spacingAndGlyphs">95.00</text>
<text x="1913" y="918.4" font-size="23.2" textLength="61.8" lengthAdjust="spacingAndGlyphs">92.50</text>
<text x="176.6" y="1025" font-size="23" textLength="92" lengthAdjust="spacingAndGlyphs">5:00 AM</text>
<text x="374.8" y="1025" font-size="23" textLength="99" lengthAdjust="spacingAndGlyphs">11:00 AM</text>
<text x="578.5" y="1025" font-size="23" textLength="91" lengthAdjust="spacingAndGlyphs">5:00 PM</text>
<text x="981.0" y="1025" font-size="23" textLength="92" lengthAdjust="spacingAndGlyphs">5:00 AM</text>
<text x="1177.3" y="1025" font-size="23" textLength="99" lengthAdjust="spacingAndGlyphs">11:00 AM</text>
<text x="1383.0" y="1025" font-size="23" textLength="91" lengthAdjust="spacingAndGlyphs">5:00 PM</text>
<text x="1784.0" y="1025" font-size="23" textLength="92" lengthAdjust="spacingAndGlyphs">5:00 AM</text>
<text x="34.7" y="1054" font-size="23" textLength="37" lengthAdjust="spacingAndGlyphs">4/7</text>
<text x="839.5" y="1054" font-size="23" textLength="37" lengthAdjust="spacingAndGlyphs">4/8</text>
<text x="1642.3" y="1054" font-size="23" textLength="37" lengthAdjust="spacingAndGlyphs">4/9</text>
</g>
<rect x="1901" y="680.5" width="75.5" height="43.5" rx="4.5" fill="#21785f"/>
<text x="1914" y="708.6" fill="#fff" stroke="#fff" stroke-width="0.9" font-family="'Liberation Sans',sans-serif" font-size="21.5" textLength="55" lengthAdjust="spacingAndGlyphs">99.16</text>
<path d="M0.5 0V79" stroke="#dcdcdc" stroke-width="1"/>
<path d="M0.5 79V1061" stroke="#f1ebdc" stroke-width="1"/><path d="M0.5 1061V1110" stroke="#dcdcdc" stroke-width="1"/>
<path d="M1.5 80V1061" stroke="#3a64d2" stroke-width="1.1"/>
</svg>
<header>
<h1 class="abs" id="t1" style="left:16.5px;top:1.5px">Crude Oil May 26 (<span class="tk">CL=F</span>)</h1>
<div class="abs sub" id="t2" style="left:16.5px;top:37px">NY Mercantile - Delayed Quote • USD</div>
<div class="abs px" id="t3" style="left:413.5px;top:6.8px">99.16</div>
<div class="abs chg" id="t4" style="left:489px;top:6.8px;letter-spacing:.5px">+4.75</div>
<div class="abs chg" id="t5" style="left:567.5px;top:6.8px;letter-spacing:.8px">(+5.03%)</div>
<div class="abs sub" id="t6" style="left:414px;top:43.5px;letter-spacing:.7px">As of 6:36:01 AM EDT. Market Open.</div>
<button class="abs follow"><svg width="20.6" height="20.6" viewBox="0 0 22 22"><path d="M11 2.2l2.6 5.9 6.3.6-4.8 4.2 1.4 6.3L11 15.9 5.5 19.2l1.4-6.3L2.1 8.7l6.3-.6z" fill="none" stroke="#232a31" stroke-width="1.8" stroke-linejoin="miter"/></svg><span id="t7">Follow</span></button>
</header>
<div class="abs tip" style="left:16px;top:124px;width:480px;height:31px"><span id="o1" style="left:8px">O:99.16</span><span id="o2" style="left:108px">H:99.16</span><span id="o3" style="left:207.5px">L:99.16</span><span id="o4" style="left:302px">C:99.16</span><span id="o5" style="left:400px">V:NaN</span></div>
<div class="abs tip" style="left:16px;top:184px;width:204px;height:43px;border-radius:7px"><span id="v1" style="left:8.5px;top:8px;font-size:25px;letter-spacing:.45px">vol undr</span><span id="v2" style="left:117px;top:8px;font-size:25px;letter-spacing:.5px">794.00</span></div>
<div class="abs tip" style="left:16px;top:242px;width:44px;height:43px;border-radius:7px"><svg width="44" height="43" viewBox="0 0 44 43"><path d="M16 24.6l6.5-6.6 6.5 6.6" fill="none" stroke="#464e56" stroke-width="2.3"/></svg></div>
<div class="abs zoom"><svg width="94" height="34" viewBox="0 0 94 34"><path d="M46.3 4v27" stroke="#cfcfcf" stroke-width="1.2"/><path d="M15 14.6h17.3v4H15zM62 14.6h17.5v4H62zM68.8 8h4.1v17.4h-4.1z" fill="#666"/></svg></div>
<div class="abs tab"><svg width="9" height="53" viewBox="0 0 9 53"><path d="M5.5 21.5l4.5 4.5-4.5 4.5" fill="none" stroke="#fff" stroke-width="1.6"/></svg></div>
<nav>
<div class="abs sel"></div>
<div class="abs rng" style="left:63.5px;transform:translateX(-50%)">1D</div>
<div class="abs rng on" style="left:133.5px;transform:translateX(-50%)">5D</div>
<div class="abs rng" style="left:204px;transform:translateX(-50%)">1M</div>
<div class="abs rng" style="left:277.8px;transform:translateX(-50%)">3M</div>
<div class="abs rng" style="left:353px;transform:translateX(-50%)">6M</div>
<div class="abs rng" style="left:433.8px;transform:translateX(-50%)">YTD</div>
<div class="abs rng" style="left:509.3px;transform:translateX(-50%)">1Y</div>
<div class="abs rng" style="left:576.3px;transform:translateX(-50%)">5Y</div>
<div class="abs rng" style="left:646.5px;transform:translateX(-50%)">All</div>
<div class="abs sep" style="left:710.5px"></div>
<svg class="abs" style="left:741px;top:1068px" width="22" height="25" viewBox="0 0 22 25"><rect x="2.8" y="5.2" width="16.4" height="16.6" rx="1.8" fill="none" stroke="#5b636a" stroke-width="2"/><path d="M2.8 5.2h16.4v4.2H2.8z" fill="#5b636a"/><path d="M6.5 2.4v4M15.5 2.4v4" stroke="#5b636a" stroke-width="2.2"/></svg>
<div class="abs sep" style="left:792.7px"></div>
<div class="abs ivl" id="t8">Interval:</div>
<div class="abs pill"><span id="t9">5 mins</span><svg style="position:absolute;left:97px;top:12px" width="16" height="12" viewBox="0 0 16 12"><path d="M2.2 3.2l5.8 5.8 5.8-5.8" fill="none" stroke="#5b636a" stroke-width="2"/></svg></div>
</nav>
</body></html>
